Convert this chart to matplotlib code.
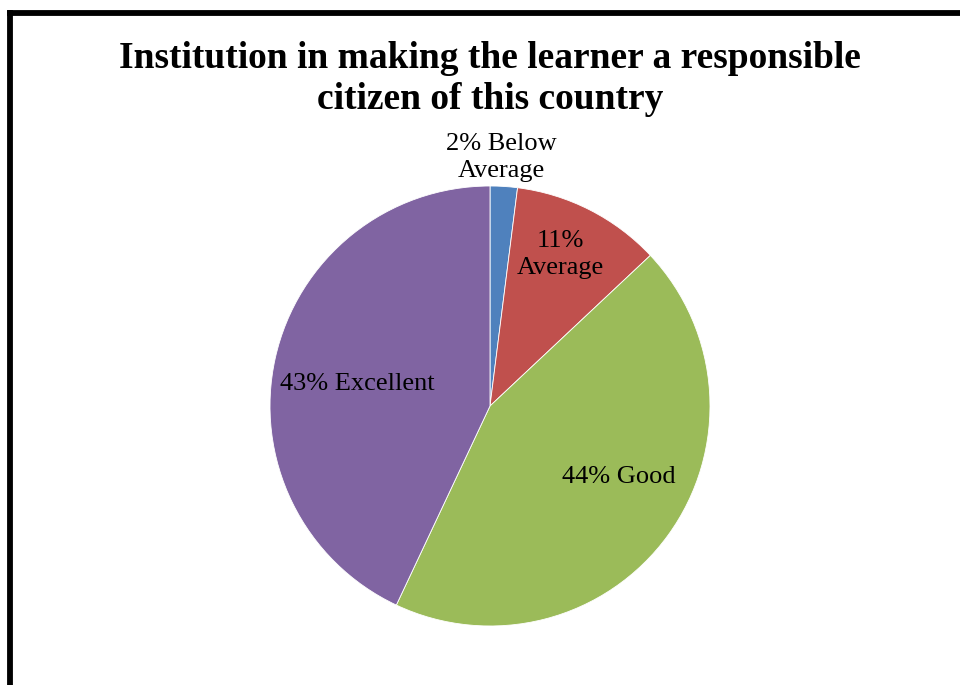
import numpy as np
import matplotlib
matplotlib.use("Agg")
import matplotlib.pyplot as plt
from matplotlib.lines import Line2D

# data
categories = ["Below Average", "Average", "Good", "Excellent"]
percents = [2, 11, 44, 43]
colors = ["#4F81BD", "#C0504D", "#9BBB59", "#8064A2"]
label_texts = ["2% Below\nAverage", "11%\nAverage", "44% Good", "43% Excellent"]
label_radius = [1.13, 0.76, 0.67, 0.61]
label_shift = [1.0, 2.0, 7.0, 3.0]  # degrees, nudge from wedge middle

title = "Institution in making the learner a responsible\ncitizen of this country"

plt.rcParams["font.family"] = ["Liberation Serif", "DejaVu Serif"]

W, H = 960, 685
fig = plt.figure(figsize=(W / 100, H / 100), dpi=100)
fig.patch.set_facecolor("white")

# pie centre (490, 406) px, radius 220 px
cx, cy, r = 490, 406, 220
ax = fig.add_axes([(cx - r) / W, (H - cy - r) / H, 2 * r / W, 2 * r / H])
wedges, _ = ax.pie(percents, colors=colors, startangle=90, counterclock=False,
                   radius=1.0, wedgeprops=dict(edgecolor="white", linewidth=0.6))
ax.set_xlim(-1, 1)
ax.set_ylim(-1, 1)
ax.set_aspect("equal")
ax.axis("off")

for w, txt, rr, sh in zip(wedges, label_texts, label_radius, label_shift):
    mid = np.deg2rad((w.theta1 + w.theta2) / 2 + sh)
    ax.text(rr * np.cos(mid), rr * np.sin(mid), txt, ha="center", va="center",
            fontsize=19, linespacing=1.3, clip_on=False)

fig.text(490 / W, 1 - 79 / H, title, ha="center", va="center", fontsize=27,
         fontweight="bold", linespacing=1.2)

# outer frame (only the top and left sides are visible)
fig.add_artist(Line2D([10 / W, 1.0], [1 - 13 / H, 1 - 13 / H], color="black", lw=4.2,
                      solid_capstyle="projecting", transform=fig.transFigure))
fig.add_artist(Line2D([10 / W, 10 / W], [1 - 13 / H, 0], color="black", lw=4.2,
                      solid_capstyle="projecting", transform=fig.transFigure))

fig.savefig("out.png", dpi=100)
